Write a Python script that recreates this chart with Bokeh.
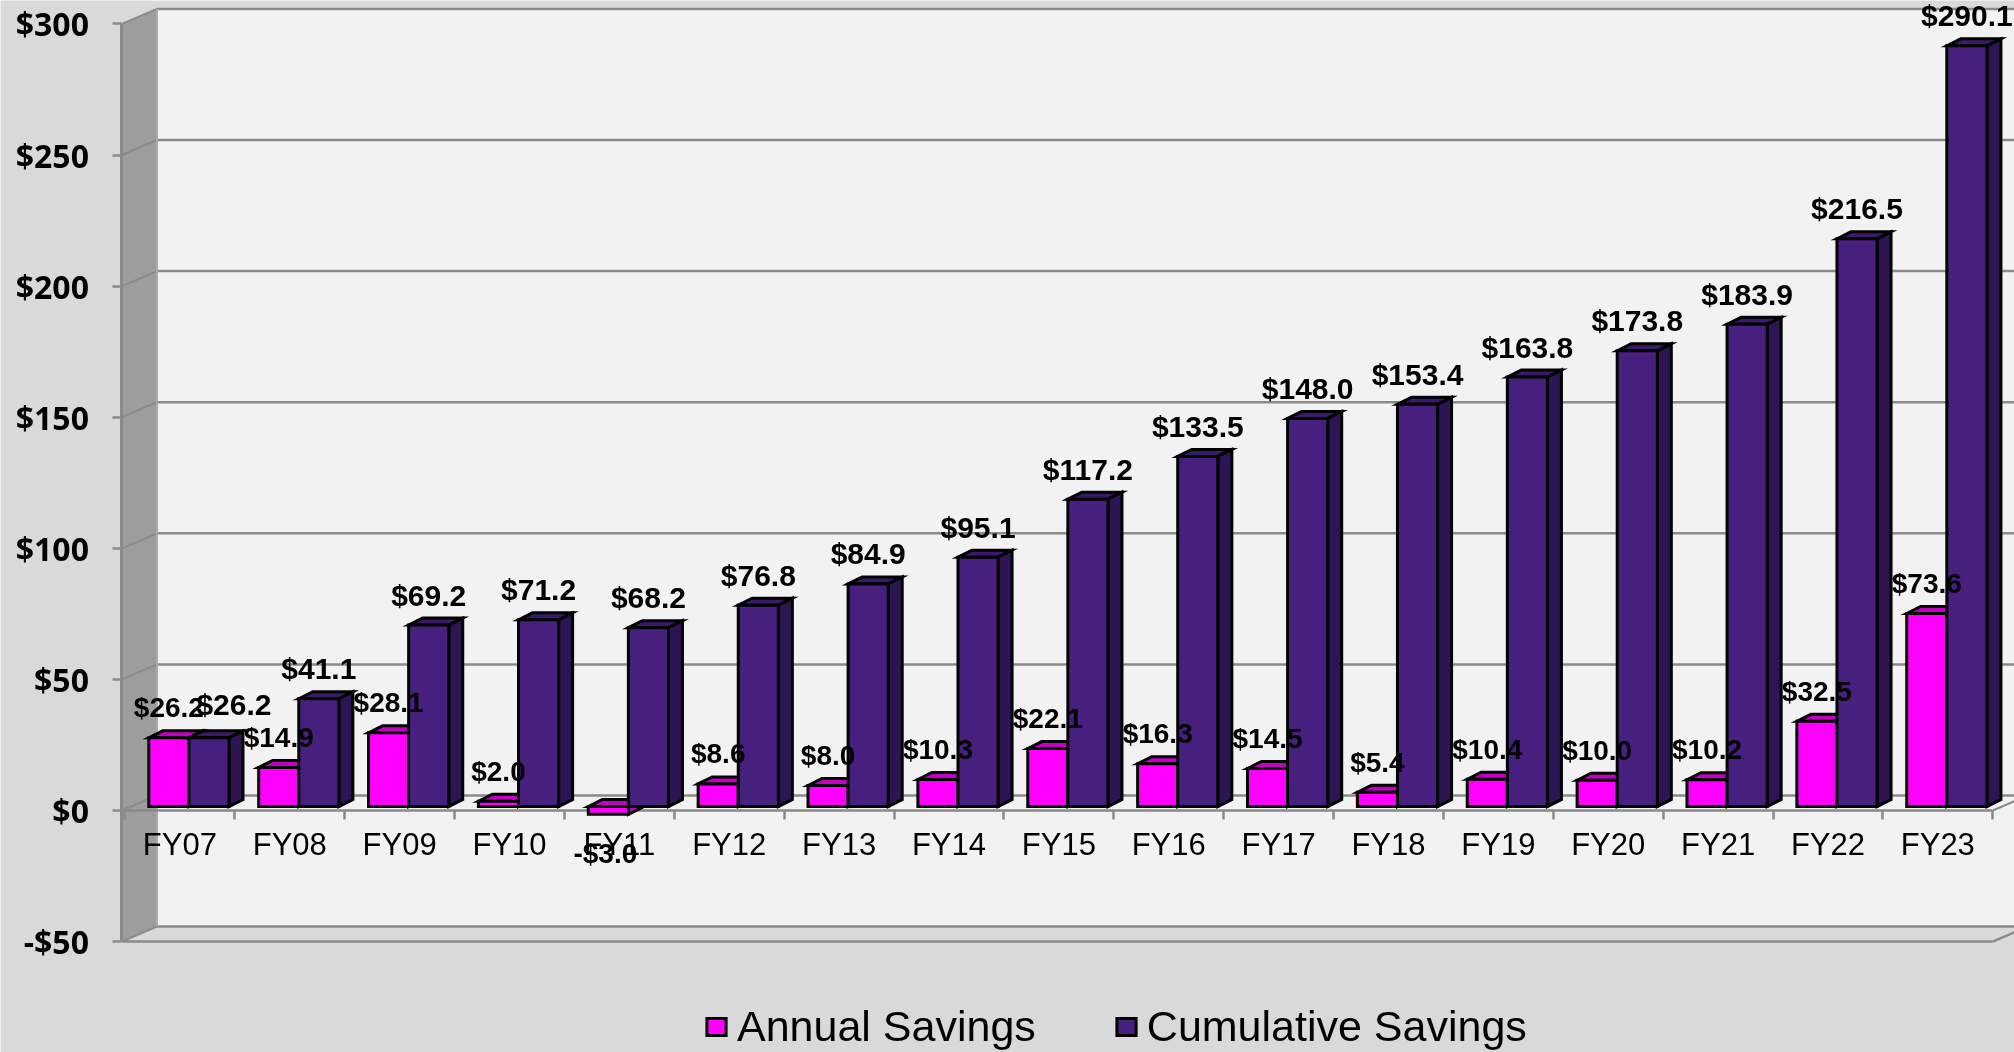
from bokeh.plotting import figure
from bokeh.models import LinearAxis, FixedTicker, Range1d, Legend, LegendItem
from bokeh.core.properties import value
from bokeh.embed import file_html
from bokeh.resources import INLINE

categories = ["FY07","FY08","FY09","FY10","FY11","FY12","FY13","FY14","FY15","FY16","FY17","FY18","FY19","FY20","FY21","FY22","FY23"]
annual = [26.2,14.9,28.1,2.0,-3.0,8.6,8.0,10.3,22.1,16.3,14.5,5.4,10.4,10.0,10.2,32.5,73.6]
cumulative = [26.2,41.1,69.2,71.2,68.2,76.8,84.9,95.1,117.2,133.5,148.0,153.4,163.8,173.8,183.9,216.5,290.1]
annual_labels = ["$26.2","$14.9","$28.1","$2.0","-$3.0","$8.6","$8.0","$10.3","$22.1","$16.3","$14.5","$5.4","$10.4","$10.0","$10.2","$32.5","$73.6"]
cumulative_labels = ["$26.2","$41.1","$69.2","$71.2","$68.2","$76.8","$84.9","$95.1","$117.2","$133.5","$148.0","$153.4","$163.8","$173.8","$183.9","$216.5","$290.1"]
y_ticks = [-50,0,50,100,150,200,250,300]

W, H = 2014, 1052
PX_X, X0 = 109.87, 179.4          # pixels per category, pixel of category 0
PX_Y, Y0 = 2.622, 810.0           # pixels per dollar, pixel of $0

def dx(px): return px / PX_X
def dy(px): return px / PX_Y

p = figure(width=W, height=H, output_backend="svg", toolbar_location=None,
           x_range=Range1d(-X0/PX_X, (W-X0)/PX_X),
           y_range=Range1d((Y0-H)/PX_Y, Y0/PX_Y),
           x_axis_type=None, y_axis_type=None, min_border=0,
           background_fill_color="#d9d9d9", border_fill_color="#d9d9d9",
           outline_line_color=None)
p.grid.visible = False
p.styles = {"position": "fixed", "left": "0px", "top": "0px"}

GRID = "#8a8a8a"
n = len(categories)
left = -0.5 - dx(3)
right = n - 0.5
wx, wy = dx(35), dy(15)
ymin, ymax = y_ticks[0], y_ticks[-1]

# back wall and left wall
p.quad(left=[left+wx], right=[right+wx+1], bottom=[ymin+wy], top=[ymax+wy],
       fill_color="#f2f2f2", line_color=None)
p.patch([left, left+wx, left+wx, left], [ymax, ymax+wy, ymin+wy, ymin],
        fill_color="#9d9d9d", line_color=None)
# floor (front strip)
p.patch([left, left+wx, right+wx+1, right], [ymin, ymin+wy, ymin+wy, ymin],
        fill_color="#d9d9d9", line_color=None)

# grid lines on the walls
p.segment(x0=[left+wx]*len(y_ticks), y0=[t+wy for t in y_ticks],
          x1=[right+wx+1]*len(y_ticks), y1=[t+wy for t in y_ticks], line_color=GRID, line_width=2.5)
p.segment(x0=[left]*len(y_ticks), y0=y_ticks,
          x1=[left+wx]*len(y_ticks), y1=[t+wy for t in y_ticks], line_color=GRID, line_width=2)
p.segment(x0=[left+wx], y0=[ymin+wy], x1=[left+wx], y1=[ymax+wy], line_color="#aaaaaa", line_width=2)
p.segment(x0=[left, right], y0=[ymin, ymin], x1=[right, right+wx], y1=[ymin, ymin+wy], line_color=GRID, line_width=2.5)
p.segment(x0=[right], y0=[0], x1=[right+wx], y1=[wy], line_color=GRID, line_width=2)

# value axis
yaxis = LinearAxis(fixed_location=left, ticker=FixedTicker(ticks=y_ticks), bounds=(ymin, ymax),
                   major_tick_in=0, major_tick_out=9, minor_tick_out=0, minor_tick_in=0,
                   major_tick_line_color=GRID, major_tick_line_width=2.5,
                   axis_line_color=GRID, axis_line_width=3,
                   major_label_overrides={t: (f"-${-t}" if t < 0 else f"${t}") for t in y_ticks},
                   major_label_text_font="Open Sans", major_label_text_font_style="bold",
                   major_label_text_font_size="32px", major_label_text_color="black",
                   major_label_standoff=24)
p.add_layout(yaxis, "left")

# category axis: tick marks between the categories
boundaries = [i - 0.5 for i in range(n + 1)]
xticks = LinearAxis(fixed_location=0, ticker=FixedTicker(ticks=boundaries), bounds=(left, right),
                    major_tick_in=0, major_tick_out=9, minor_tick_out=0, minor_tick_in=0,
                    major_tick_line_color=GRID, major_tick_line_width=2.5,
                    axis_line_color=GRID, axis_line_width=2.5,
                    major_label_text_font_size="0px", major_label_text_color=None)
p.add_layout(xticks, "below")
xlabels = LinearAxis(fixed_location=0, ticker=FixedTicker(ticks=list(range(n))),
                     major_tick_in=0, major_tick_out=0, minor_tick_out=0, minor_tick_in=0,
                     axis_line_color=None,
                     major_label_overrides={i: c for i, c in enumerate(categories)},
                     major_label_text_font="Liberation Sans", major_label_text_font_size="31px",
                     major_label_text_color="black", major_label_standoff=16)
p.add_layout(xlabels, "below")

# bars
px, py = dx(9.0), dy(4.0)         # bar plane relative to the front of the chart
bw = dx(40.1)                     # bar width
bdx, bdy = dx(14), dy(7)          # bar depth
OUT = dict(line_color="black", line_width=3, level="annotation", line_join="miter")

def draw(values, x_off, front, top_c, side_c):
    ls = [i + px + x_off for i in range(n)]
    rs = [l + bw for l in ls]
    hi = [max(v, 0) + py for v in values]
    lo = [min(v, 0) + py for v in values]
    p.patches([[l, l+bdx, r+bdx, r] for l, r in zip(ls, rs)],
              [[h, h+bdy, h+bdy, h] for h in hi], fill_color=top_c, **OUT)
    p.patches([[r, r+bdx, r+bdx, r] for r in rs],
              [[h, h+bdy, b+bdy, b] for h, b in zip(hi, lo)], fill_color=side_c, **OUT)
    return p.quad(left=ls, right=rs, top=hi, bottom=lo, fill_color=front, **OUT)

r1 = draw(annual, -bw, "#ff00ff", "#c400c4", "#c400c4")
r2 = draw(cumulative, 0, "#471f7e", "#3a1a68", "#2d1452")

# data labels
TXT = dict(text_baseline="middle", text_align="center", text_font=value("Liberation Sans"),
           text_font_style="bold", text_color="black", level="overlay")
ax = [i + px - bw/2 for i in range(n)]
pos = [a for a in annual]
p.text(x=[a for a, v in zip(ax, pos) if v >= 0],
       y=[v + py + bdy for v in pos if v >= 0],
       text=[t for t, v in zip(annual_labels, pos) if v >= 0], y_offset=-23,
       text_font_size="28px", **TXT)
p.text(x=[a for a, v in zip(ax, pos) if v < 0],
       y=[v + py for v in pos if v < 0],
       text=[t for t, v in zip(annual_labels, pos) if v < 0], y_offset=39, x_offset=-3,
       text_font_size="28px", **TXT)
cx = [i + px + bw/2 for i in range(n)]
p.text(x=cx[:1], y=[cumulative[0] + py + bdy], text=cumulative_labels[:1], x_offset=25, y_offset=-26,
       text_font_size="30px", **TXT)
p.text(x=cx[1:], y=[v + py + bdy for v in cumulative[1:]], text=cumulative_labels[1:], y_offset=-23,
       text_font_size="30px", **TXT)

# legend
legend = Legend(items=[LegendItem(label="Annual Savings", renderers=[r1]),
                       LegendItem(label="Cumulative Savings", renderers=[r2])],
                orientation="horizontal", location=(704, 1),
                background_fill_alpha=0, border_line_color=None, padding=0, margin=0,
                glyph_width=24, glyph_height=21, label_standoff=9, spacing=78,
                label_text_font="Liberation Sans", label_text_font_size="43px",
                label_text_color="black", level="overlay")
p.add_layout(legend, "center")

open("out.html", "w").write(file_html(p, INLINE))
